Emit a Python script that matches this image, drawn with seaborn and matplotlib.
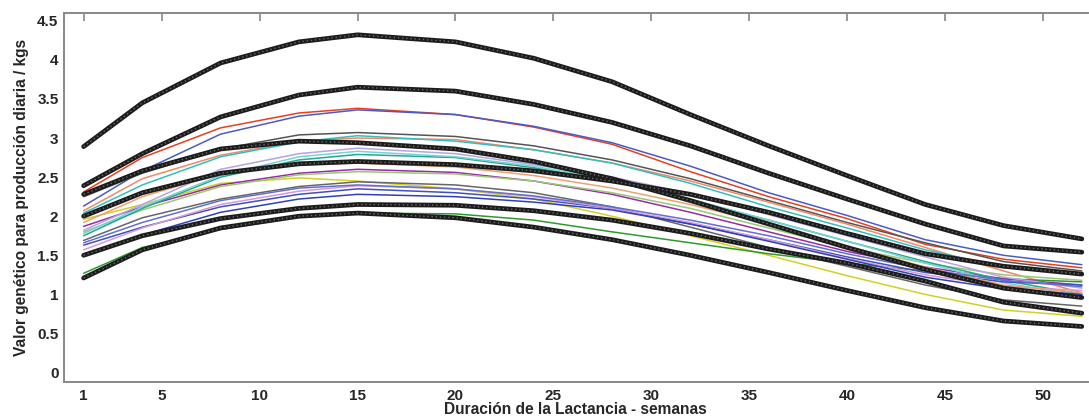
import numpy as np
import pandas as pd
import seaborn as sns
import matplotlib.pyplot as plt

# semanas de lactancia (puntos de cada curva)
semanas = [1, 4, 8, 12, 15, 20, 24, 28, 32, 36, 40, 44, 48, 52]

# curvas gruesas (negras)
negra_1 = [2.89, 3.45, 3.96, 4.23, 4.32, 4.23, 4.02, 3.72, 3.30, 2.90, 2.52, 2.15, 1.88, 1.71]
negra_2 = [2.39, 2.80, 3.27, 3.55, 3.65, 3.60, 3.43, 3.20, 2.90, 2.55, 2.22, 1.90, 1.62, 1.54]
negra_3 = [2.28, 2.58, 2.86, 2.96, 2.94, 2.86, 2.70, 2.48, 2.20, 1.90, 1.60, 1.32, 1.08, 0.96]
negra_4 = [2.00, 2.30, 2.55, 2.67, 2.70, 2.66, 2.58, 2.45, 2.28, 2.05, 1.78, 1.52, 1.36, 1.26]
negra_5 = [1.50, 1.75, 1.97, 2.10, 2.15, 2.14, 2.07, 1.95, 1.78, 1.58, 1.40, 1.17, 0.90, 0.76]
negra_6 = [1.21, 1.57, 1.85, 2.00, 2.04, 1.98, 1.86, 1.70, 1.50, 1.28, 1.05, 0.83, 0.66, 0.59]

# curvas finas (colores)
rojo = [2.31, 2.75, 3.13, 3.32, 3.38, 3.30, 3.14, 2.92, 2.57, 2.25, 1.97, 1.64, 1.45, 1.34]
azul_1 = [2.13, 2.58, 3.05, 3.28, 3.36, 3.30, 3.15, 2.94, 2.64, 2.30, 2.01, 1.70, 1.50, 1.38]
gris_1 = [2.25, 2.55, 2.86, 3.04, 3.07, 3.02, 2.90, 2.72, 2.48, 2.20, 1.92, 1.66, 1.42, 1.30]
salmon = [2.07, 2.48, 2.78, 2.96, 3.00, 2.98, 2.85, 2.68, 2.45, 2.18, 1.90, 1.60, 1.30, 1.02]
cian_1 = [2.04, 2.40, 2.76, 2.95, 3.03, 2.96, 2.85, 2.68, 2.42, 2.12, 1.85, 1.57, 1.35, 1.26]
amarillo = [1.96, 2.15, 2.42, 2.49, 2.45, 2.35, 2.22, 2.00, 1.75, 1.50, 1.24, 1.00, 0.80, 0.72]
verde = [1.27, 1.60, 1.83, 1.99, 2.04, 2.03, 1.95, 1.80, 1.66, 1.52, 1.40, 1.30, 1.20, 1.16]
morado = [1.87, 2.12, 2.40, 2.55, 2.60, 2.56, 2.45, 2.28, 2.05, 1.80, 1.55, 1.35, 1.20, 1.12]
verde_claro = [1.80, 2.08, 2.38, 2.53, 2.57, 2.54, 2.45, 2.30, 2.10, 1.85, 1.60, 1.40, 1.25, 1.18]
turquesa = [1.75, 2.10, 2.50, 2.72, 2.79, 2.75, 2.62, 2.45, 2.21, 1.95, 1.68, 1.42, 1.18, 1.00]
lavanda = [1.82, 2.15, 2.60, 2.80, 2.87, 2.80, 2.66, 2.50, 2.29, 2.02, 1.75, 1.48, 1.22, 1.08]
cian_2 = [1.78, 2.12, 2.52, 2.76, 2.83, 2.76, 2.64, 2.46, 2.22, 1.95, 1.68, 1.40, 1.15, 0.98]
gris_2 = [1.69, 1.98, 2.22, 2.38, 2.44, 2.40, 2.30, 2.12, 1.86, 1.60, 1.36, 1.12, 0.93, 0.85]
azul_2 = [1.63, 1.86, 2.12, 2.28, 2.35, 2.30, 2.22, 2.10, 1.90, 1.70, 1.48, 1.28, 1.16, 1.12]
rosa = [1.57, 1.85, 2.15, 2.32, 2.39, 2.35, 2.25, 2.10, 1.92, 1.70, 1.46, 1.25, 1.10, 1.05]
azul_3 = [1.49, 1.76, 2.05, 2.22, 2.28, 2.25, 2.18, 2.08, 1.90, 1.68, 1.45, 1.22, 1.07, 1.00]
naranja = [1.92, 2.25, 2.55, 2.66, 2.68, 2.63, 2.52, 2.36, 2.15, 1.90, 1.62, 1.35, 1.12, 1.02]
azul_4 = [1.66, 1.92, 2.20, 2.36, 2.40, 2.35, 2.26, 2.12, 1.95, 1.75, 1.52, 1.32, 1.18, 1.10]

finas = [
    (rojo, '#e8401c'), (azul_1, '#4a5ac8'), (gris_1, '#555555'), (salmon, '#f08868'),
    (cian_1, '#30c0c0'), (amarillo, '#d4d020'), (verde, '#2e9a2e'), (morado, '#9a2aa8'),
    (verde_claro, '#98c878'), (turquesa, '#20a890'), (lavanda, '#b4a4e4'), (cian_2, '#78d4d4'),
    (gris_2, '#666666'), (azul_2, '#4050c0'), (rosa, '#d898d8'), (azul_3, '#3040b8'),
    (naranja, '#f0a070'), (azul_4, '#6070d0'),
]
gruesas = [negra_1, negra_2, negra_3, negra_4, negra_5, negra_6]

sns.set_style('white')
plt.rcParams['font.family'] = ['Liberation Sans', 'DejaVu Sans']

fig = plt.figure(figsize=(10.89, 4.17), dpi=100)
ax = fig.add_axes([0.0588, 0.084, 0.94, 0.885])

for vals, col in finas:
    sns.lineplot(x=semanas, y=vals, color=col, lw=1.1, ax=ax)

for vals in gruesas:
    sns.lineplot(x=semanas, y=vals, color='#1c1c1c', lw=3.4, ax=ax)
    sns.lineplot(x=semanas, y=vals, color='#6a6a6a', lw=1.0, ls=(0, (1, 2)), ax=ax)

ax.set_xlim(0, 52.3)
ax.set_ylim(-0.12, 4.6)
ax.set_xticks([1, 5, 10, 15, 20, 25, 30, 35, 40, 45, 50])
ax.set_yticks(np.arange(0, 4.51, 0.5))
ax.set_yticklabels([f'{v:g}' for v in np.arange(0, 4.51, 0.5)])

for lab in ax.get_xticklabels() + ax.get_yticklabels():
    lab.set_fontweight('bold')
ax.tick_params(axis='both', direction='in', length=6, width=1.2, color='#888888',
               labelsize=11, top=True, right=False)
ax.tick_params(axis='x', pad=5)
ax.tick_params(axis='y', pad=4)
for s in ax.spines.values():
    s.set_color('#888888')
    s.set_linewidth(1.4)
ax.spines['right'].set_visible(False)

ax.set_xlabel('Duración de la Lactancia - semanas', fontsize=11.2, fontweight='bold', labelpad=-1)
ax.set_ylabel('Valor genético para producción diaria / kgs', fontsize=11.2, fontweight='bold', labelpad=6)

fig.savefig('out.png', dpi=100)
